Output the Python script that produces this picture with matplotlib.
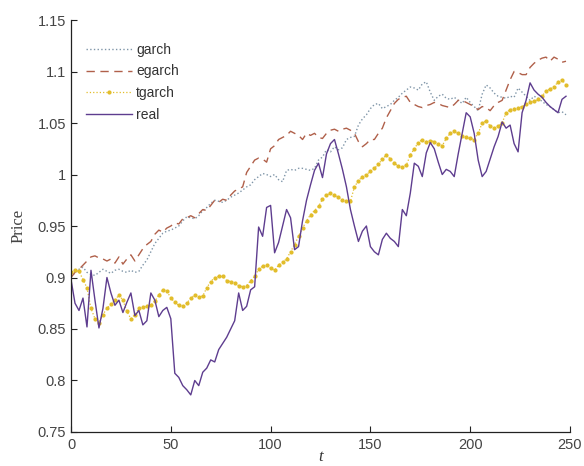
import numpy as np
import matplotlib
matplotlib.use("Agg")
import matplotlib.pyplot as plt

# values, one every 2 steps (t = 0, 2, ..., 248)
real = [
    0.898, 0.875, 0.868, 0.880, 0.852, 0.907, 0.878, 0.851, 0.870, 0.900,
    0.885, 0.873, 0.878, 0.866, 0.876, 0.885, 0.863, 0.868, 0.854, 0.858,
    0.885, 0.878, 0.862, 0.868, 0.871, 0.860, 0.807, 0.803, 0.795, 0.791,
    0.786, 0.800, 0.795, 0.808, 0.812, 0.820, 0.818, 0.830, 0.836, 0.842,
    0.850, 0.858, 0.885, 0.868, 0.872, 0.888, 0.891, 0.949, 0.940, 0.968,
    0.970, 0.924, 0.934, 0.950, 0.966, 0.958, 0.927, 0.930, 0.955, 0.975,
    0.990, 1.004, 1.011, 0.997, 1.020, 1.030, 1.034, 1.020, 1.005, 0.988,
    0.966, 0.950, 0.935, 0.945, 0.950, 0.930, 0.925, 0.922, 0.937, 0.943,
    0.938, 0.935, 0.930, 0.966, 0.960, 0.982, 1.011, 1.008, 0.998, 1.021,
    1.031, 1.025, 1.012, 1.000, 1.005, 1.003, 0.998, 1.020, 1.040, 1.060,
    1.056, 1.040, 1.014, 0.998, 1.003, 1.015, 1.027, 1.037, 1.051, 1.045,
    1.048, 1.030, 1.022, 1.060, 1.072, 1.089, 1.082, 1.078, 1.075, 1.070,
    1.066, 1.063, 1.060, 1.073, 1.076,
]
tgarch = [
    0.905, 0.907, 0.906, 0.898, 0.890, 0.870, 0.860, 0.856, 0.864, 0.870,
    0.874, 0.878, 0.883, 0.878, 0.867, 0.860, 0.864, 0.870, 0.871, 0.872,
    0.873, 0.877, 0.883, 0.888, 0.887, 0.880, 0.876, 0.873, 0.872, 0.875,
    0.880, 0.883, 0.881, 0.882, 0.890, 0.896, 0.900, 0.901, 0.901, 0.897,
    0.896, 0.895, 0.892, 0.891, 0.892, 0.897, 0.901, 0.908, 0.911, 0.912,
    0.909, 0.907, 0.912, 0.915, 0.918, 0.925, 0.932, 0.940, 0.948, 0.955,
    0.961, 0.965, 0.969, 0.976, 0.980, 0.982, 0.980, 0.978, 0.975, 0.974,
    0.974, 0.988, 0.994, 0.998, 1.000, 1.003, 1.006, 1.010, 1.015, 1.019,
    1.015, 1.011, 1.008, 1.007, 1.009, 1.019, 1.025, 1.031, 1.034, 1.032,
    1.033, 1.032, 1.030, 1.028, 1.035, 1.040, 1.042, 1.040, 1.037, 1.036,
    1.035, 1.034, 1.040, 1.050, 1.052, 1.047, 1.045, 1.047, 1.050, 1.060,
    1.063, 1.064, 1.065, 1.066, 1.068, 1.070, 1.071, 1.073, 1.076, 1.081,
    1.083, 1.085, 1.090, 1.092, 1.087,
]
garch = [
    0.900, 0.905, 0.908, 0.910, 0.905, 0.903, 0.902, 0.905, 0.908, 0.906,
    0.904, 0.907, 0.908, 0.906, 0.905, 0.907, 0.905, 0.906, 0.912, 0.917,
    0.925, 0.933, 0.938, 0.943, 0.945, 0.946, 0.948, 0.950, 0.955, 0.959,
    0.958, 0.957, 0.960, 0.965, 0.968, 0.972, 0.975, 0.974, 0.973, 0.975,
    0.978, 0.980, 0.982, 0.985, 0.988, 0.990, 0.995, 0.998, 1.001, 1.000,
    0.998, 1.000, 0.995, 0.993, 1.004, 1.005, 1.004, 1.006, 1.006, 1.005,
    1.004, 1.006, 1.014, 1.017, 1.024, 1.022, 1.027, 1.024, 1.026, 1.034,
    1.036, 1.037, 1.048, 1.054, 1.058, 1.064, 1.068, 1.069, 1.064, 1.066,
    1.068, 1.072, 1.075, 1.079, 1.082, 1.085, 1.084, 1.082, 1.088, 1.090,
    1.080, 1.072, 1.076, 1.078, 1.074, 1.073, 1.075, 1.072, 1.069, 1.075,
    1.070, 1.066, 1.062, 1.078, 1.087, 1.084, 1.079, 1.076, 1.075, 1.074,
    1.076, 1.075, 1.084, 1.080, 1.076, 1.072, 1.076, 1.074, 1.071, 1.068,
    1.066, 1.063, 1.060, 1.061, 1.058,
]
egarch = [
    0.900, 0.905, 0.908, 0.912, 0.916, 0.920, 0.921, 0.919, 0.918, 0.916,
    0.918, 0.914, 0.920, 0.913, 0.918, 0.922, 0.916, 0.922, 0.928, 0.932,
    0.935, 0.942, 0.946, 0.944, 0.948, 0.950, 0.953, 0.952, 0.957, 0.958,
    0.960, 0.958, 0.962, 0.966, 0.965, 0.970, 0.975, 0.973, 0.976, 0.975,
    0.980, 0.984, 0.986, 0.988, 1.002, 1.008, 1.014, 1.016, 1.015, 1.012,
    1.025, 1.028, 1.034, 1.036, 1.038, 1.042, 1.040, 1.038, 1.034, 1.040,
    1.038, 1.040, 1.036, 1.035, 1.040, 1.043, 1.044, 1.042, 1.044, 1.045,
    1.043, 1.040, 1.032, 1.027, 1.030, 1.034, 1.034, 1.040, 1.045, 1.055,
    1.062, 1.069, 1.073, 1.075, 1.076, 1.070, 1.068, 1.066, 1.065, 1.067,
    1.068, 1.070, 1.069, 1.067, 1.066, 1.065, 1.068, 1.072, 1.072, 1.070,
    1.068, 1.066, 1.063, 1.066, 1.065, 1.062, 1.067, 1.070, 1.072, 1.082,
    1.092, 1.100, 1.099, 1.097, 1.097, 1.104, 1.108, 1.111, 1.113, 1.114,
    1.110, 1.114, 1.112, 1.109, 1.110,
]
t = np.arange(len(real)) * 2

yticks = [0.75, 0.8, 0.85, 0.9, 0.95, 1, 1.05, 1.1, 1.15]
yticklabels = ["0.75", "0.8", "0.85", "0.9", "0.95", "1", "1.05", "1.1", "1.15"]
xticks = [0, 50, 100, 150, 200, 250]

plt.rcParams["font.family"] = ["Liberation Sans", "DejaVu Sans"]

fig = plt.figure(figsize=(5.84, 4.66), dpi=100)
ax = fig.add_axes([0.1216, 0.073, 0.8544, 0.884])

ax.plot(t, garch, ls=":", color="#7f95a8", lw=1.0, label="garch")
ax.plot(t, egarch, ls=(0, (6, 4)), color="#b0604a", lw=1.0, label="egarch")
ax.plot(t, tgarch, ls=":", color="#e2bd2a", lw=0.9, marker=".",
        markersize=4, markevery=1, label="tgarch")
ax.plot(t, real, ls="-", color="#5e3d8f", lw=1.0, label="real")

ax.set_xlim(0, 250)
ax.set_ylim(0.75, 1.15)
ax.set_xticks(xticks)
ax.set_yticks(yticks)
ax.set_yticklabels(yticklabels)
ax.tick_params(direction="in", length=4, labelsize=10.5, labelcolor="#444444",
               color="#222222")
ax.tick_params(axis="x", pad=4)

for side in ["top", "right"]:
    ax.spines[side].set_visible(False)
for side in ["left", "bottom"]:
    ax.spines[side].set_linewidth(0.9)
    ax.spines[side].set_color("#222222")

ax.set_ylabel("Price", family="Liberation Serif", fontsize=12, color="#444444",
              labelpad=8)
ax.set_xlabel("t", family="Liberation Serif", style="italic", fontsize=12,
              color="#333333", labelpad=-2)

leg = ax.legend(loc="upper left", bbox_to_anchor=(0.005, 0.975), frameon=False,
                fontsize=10, handlelength=3.3, handletextpad=0.3,
                labelspacing=0.55)
for txt in leg.get_texts():
    txt.set_color("#333333")

fig.savefig("out.png", dpi=100)
